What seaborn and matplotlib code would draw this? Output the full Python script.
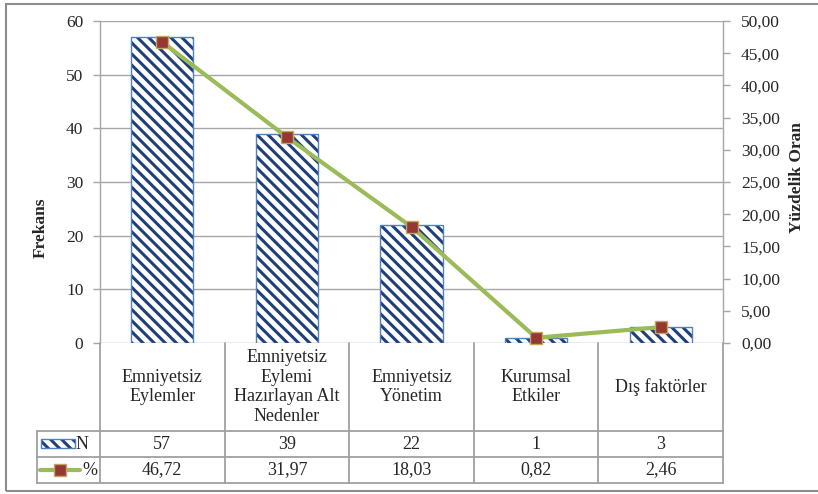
import numpy as np
import pandas as pd
import matplotlib
matplotlib.use("Agg")
import matplotlib.pyplot as plt
import seaborn as sns
from matplotlib.patches import Rectangle
from matplotlib.lines import Line2D
from matplotlib.transforms import blended_transform_factory
from matplotlib.ticker import FuncFormatter

# ---- data ----
categories = ["Emniyetsiz\nEylemler", "Emniyetsiz\nEylemi\nHazırlayan Alt\nNedenler",
              "Emniyetsiz\nYönetim", "Kurumsal\nEtkiler", "Dış faktörler"]
counts = [57, 39, 22, 1, 3]
percents = [46.72, 31.97, 18.03, 0.82, 2.46]
count_labels = ["57", "39", "22", "1", "3"]
percent_labels = ["46,72", "31,97", "18,03", "0,82", "2,46"]

sns.set_style("white")
plt.rcParams['font.family'] = ['Liberation Serif', 'DejaVu Serif']
plt.rcParams['hatch.linewidth'] = 2.2

W, H = 818, 494
NAVY = "#1f3f78"
LIGHT = "#4f81bd"
GREEN = "#9bbb59"
RED = "#953735"
MEDGE = "#c2a65e"
GRID = "#a6a6a6"
TL = "#a0a0a0"
FS = 12.5
HATCH = "\\\\\\"

df = pd.DataFrame({"Kategori": categories, "N": counts, "Yuzde": percents})
n = len(categories)

fig = plt.figure(figsize=(W / 100, H / 100), dpi=100)
ax = fig.add_axes([100 / W, 1 - 343 / H, 623 / W, 322 / H])
ax2 = ax.twinx()

sns.barplot(data=df, x="Kategori", y="N", ax=ax, color="white", edgecolor=NAVY,
            linewidth=0, width=0.5, hatch=HATCH, saturation=1)
for p in list(ax.patches):
    ax.add_patch(Rectangle(p.get_xy(), p.get_width(), p.get_height(), fill=False,
                           edgecolor=LIGHT, lw=1.0, zorder=3))

sns.pointplot(data=df, x="Kategori", y="Yuzde", ax=ax2, color=GREEN, markers="s",
              linestyles="-", errorbar=None)
for ln in ax2.lines:
    ln.set_linewidth(3.0)
    ln.set_markersize(8.5)
    ln.set_markerfacecolor(RED)
    ln.set_markeredgecolor(MEDGE)
    ln.set_markeredgewidth(1.0)
    ln.set_clip_on(False)

ax.set_xlim(-0.5, n - 0.5)
ax2.set_xlim(-0.5, n - 0.5)

ax.set_ylim(0, 60)
ax.set_yticks(np.arange(0, 61, 10))
ax.set_axisbelow(True)
ax.yaxis.grid(True, color=GRID, lw=1.0)
ax.set_xlabel("")
ax.set_ylabel("")
ax.set_xticks([])
for s in ["top", "right", "bottom"]:
    ax.spines[s].set_visible(False)
ax.spines["left"].set_color(GRID)
ax.spines["left"].set_linewidth(1.0)
ax.tick_params(axis="y", direction="out", length=5, width=1, color=GRID,
               labelsize=FS, pad=7, left=True)

ax2.set_ylim(0, 50)
ax2.set_yticks(np.arange(0, 51, 5))
ax2.yaxis.set_major_formatter(FuncFormatter(lambda v, _: f"{v:.2f}".replace(".", ",")))
ax2.set_xlabel("")
ax2.set_ylabel("")
ax2.set_xticks([])
for s in ["top", "left", "bottom"]:
    ax2.spines[s].set_visible(False)
ax2.spines["right"].set_color(GRID)
ax2.spines["right"].set_linewidth(1.0)
ax2.tick_params(axis="y", direction="out", length=5, width=1, color=GRID,
                labelsize=FS, pad=8, right=True)

# axis titles
fig.text(41 / W, 1 - 228 / H, "Frekans", rotation=90, fontsize=FS, fontweight="bold",
         ha="center", va="center")
fig.text(797 / W, 1 - 178 / H, "Yüzdelik Oran", rotation=90, fontsize=FS,
         fontweight="bold", ha="center", va="center")

# ---- data table ----
def fy(y):
    return 1 - y / H

tr = blended_transform_factory(ax.transData, fig.transFigure)
for i in range(n + 1):
    fig.add_artist(Line2D([i - 0.5, i - 0.5], [fy(343), fy(483)], transform=tr,
                          color=TL, lw=1.3))
for y in [431, 457, 483]:
    fig.add_artist(Line2D([37 / W, 723 / W], [fy(y), fy(y)], transform=fig.transFigure,
                          color=TL, lw=1.3))
fig.add_artist(Line2D([37 / W, 37 / W], [fy(431), fy(483)], transform=fig.transFigure,
                      color=TL, lw=1.3))

for i in range(n):
    fig.text(i, fy(387), categories[i], transform=tr, ha="center", va="center",
             fontsize=13, linespacing=1.2)
    fig.text(i, fy(444), count_labels[i], transform=tr, ha="center", va="center",
             fontsize=13)
    fig.text(i, fy(470), percent_labels[i], transform=tr, ha="center", va="center",
             fontsize=13)

# legend keys in table
fig.add_artist(Rectangle((41 / W, fy(448)), 34 / W, 9 / H, transform=fig.transFigure,
                         facecolor="white", edgecolor=NAVY, lw=0, hatch=HATCH))
fig.add_artist(Rectangle((41 / W, fy(448)), 34 / W, 9 / H, transform=fig.transFigure,
                         fill=False, edgecolor=LIGHT, lw=1.0))
fig.text(76 / W, fy(444), "N", ha="left", va="center", fontsize=13)
fig.add_artist(Line2D([40 / W, 80 / W], [fy(470), fy(470)], transform=fig.transFigure,
                      color=GREEN, lw=3.0))
fig.add_artist(Line2D([60 / W], [fy(470)], transform=fig.transFigure, marker="s",
                      markersize=8.5, markerfacecolor=RED, markeredgecolor=MEDGE,
                      markeredgewidth=1.0, linestyle="none"))
fig.text(82 / W, fy(470), "%", ha="left", va="center", fontsize=13)

# outer frame
fig.add_artist(Rectangle((6 / W, fy(491)), 830 / W, 487 / H, transform=fig.transFigure,
                         fill=False, edgecolor="#8c8c8c", lw=1.5))

fig.savefig("out.png", dpi=100)
